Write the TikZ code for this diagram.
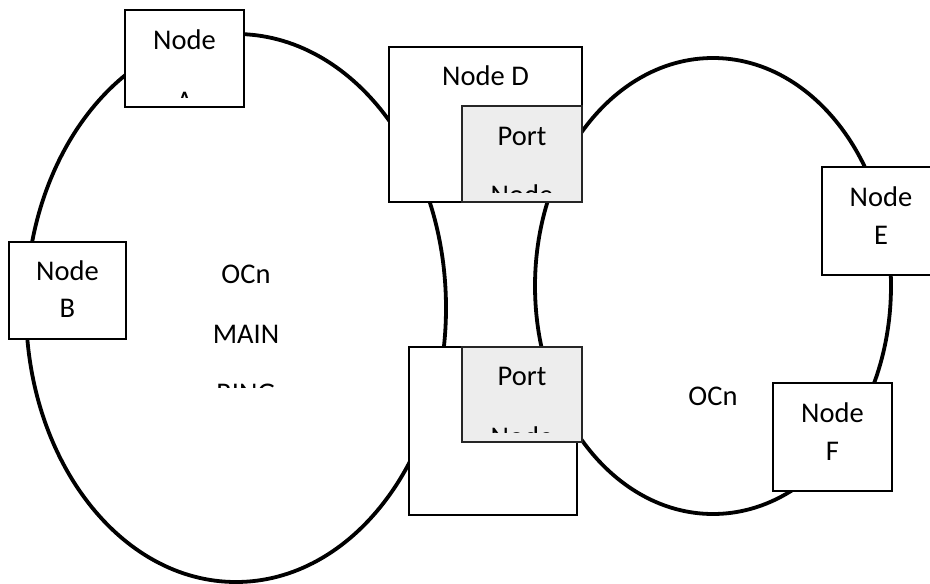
\documentclass[tikz,border=0pt]{standalone}
\usepackage{fontspec}
\setmainfont{Carlito}
\begin{document}
\begin{tikzpicture}[x=1pt,y=-1pt,
  ring/.style={line width=3.8pt},
  box/.style={draw=black,line width=2pt,fill=white,inner sep=0pt,outer sep=0pt},
  portbox/.style={draw=black!85,line width=2pt,fill=black!7,inner sep=0pt,outer sep=0pt},
  lbl/.style={font=\fontsize{28.5}{34}\selectfont,anchor=base,inner sep=0pt}]
\useasboundingbox (0,0) rectangle (930,584);
\clip (0,0) rectangle (930,584);
\fill[white] (0,0) rectangle (930,584);
% rings
\draw[ring] (236,308) ellipse [x radius=210, y radius=274];
\draw[ring] (713,286) ellipse [x radius=178, y radius=228];
% boxes
\node[box, minimum width=119pt, minimum height=97pt] (A) at (184.5,58.5) {};
\node[box, minimum width=117pt, minimum height=97pt] (B) at (67.5,290.5) {};
\node[box, minimum width=193pt, minimum height=155pt] (D) at (485.5,124.5) {};
\node[portbox, minimum width=120pt, minimum height=96pt] (portD) at (522,154) {};
\node[box, minimum width=168pt, minimum height=168pt] (C) at (493,431) {};
\node[portbox, minimum width=120pt, minimum height=95pt] (portC) at (522,394.5) {};
\node[box, minimum width=118pt, minimum height=108pt] (E) at (881,221) {};
\node[box, minimum width=119pt, minimum height=108pt] (F) at (832.5,437) {};
% labels
\node[lbl] (A1) at (184.5,49) {Node};
\begin{scope}
  \clip (126,60) rectangle (243,97.5);
  \node[lbl] (A2) at (184.5,110) {A};
\end{scope}
\node[lbl] (B1) at (67.5,280) {Node};
\node[lbl] (B2) at (67.5,317) {B};
\node[lbl] (D1) at (485.5,85.7) {Node D};
\node[lbl] (pD1) at (522,145) {Port};
\begin{scope}
  \clip (463,150) rectangle (581,192);
  \node[lbl] (pD2) at (522,204) {Node};
\end{scope}
\node[lbl] (pC1) at (522,385) {Port};
\begin{scope}
  \clip (463,390) rectangle (581,432);
  \node[lbl] (pC2) at (522,446) {Node};
\end{scope}
\node[lbl] (m1) at (246,283.5) {OCn};
\node[lbl] (m2) at (246,343) {MAIN};
\begin{scope}
  \clip (180,350) rectangle (320,387);
  \node[lbl] (m3) at (246,402) {RING};
\end{scope}
\node[lbl] (E1) at (881,206) {Node};
\node[lbl] (E2) at (881,244) {E};
\node[lbl] (F1) at (832.5,422.3) {Node};
\node[lbl] (F2) at (832.5,460) {F};
\node[lbl] (r1) at (713,405) {OCn};
\end{tikzpicture}
\end{document}
